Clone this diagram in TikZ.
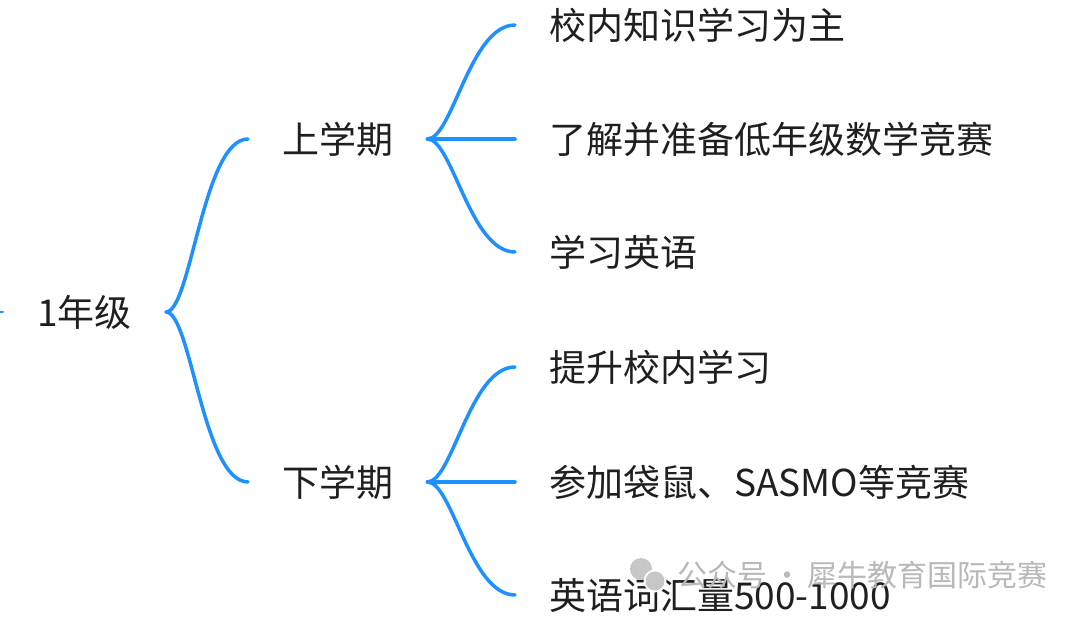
\documentclass[tikz,border=0pt]{standalone}
\usepackage{fontspec}
\setmainfont{Noto Sans CJK SC}
\definecolor{mapblue}{RGB}{30,144,255}
\begin{document}
\begin{tikzpicture}[x=1pt,y=-1pt,
  topic/.style={inner xsep=34pt,inner ysep=0pt,text=black!88,font=\fontsize{37}{40}\selectfont},
  link/.style={draw=mapblue,line width=3.5pt,line cap=round}]
\useasboundingbox (0,0) rectangle (1080,620);
% root and terms
\node[topic,anchor=east] (grade) at (166,312) {1年级};
\node[topic,anchor=west] (first) at (248,139) {上学期};
\node[topic,anchor=west] (second) at (248,482) {下学期};
% leaves
\node[topic,anchor=west] (f1) at (515,25) {校内知识学习为主};
\node[topic,anchor=west] (f2) at (515,139) {了解并准备低年级数学竞赛};
\node[topic,anchor=west] (f3) at (515,252) {学习英语};
\node[topic,anchor=west] (s1) at (515,367) {提升校内学习};
\node[topic,anchor=west] (s2) at (515,482) {参加袋鼠、SASMO等竞赛};
\node[topic,anchor=west] (s3) at (515,595) {英语词汇量500-1000};
% connectors
\coordinate (stubL) at (-4,312);
\coordinate (stubR) at (3,312);
\draw[link,line width=2pt] (stubL) -- (stubR);
\draw[link] (grade.east) .. controls +(25,0) and +(-45,0) .. (first.west);
\draw[link] (grade.east) .. controls +(25,0) and +(-45,0) .. (second.west);
\foreach \t/\a/\b/\c in {first/f1/f2/f3,second/s1/s2/s3}{
  \draw[link] (\t.east) .. controls +(25,0) and +(-45,0) .. (\a.west);
  \draw[link] (\t.east) -- (\b.west);
  \draw[link] (\t.east) .. controls +(25,0) and +(-45,0) .. (\c.west);
}
% watermark
\fill[black!22] (641,569) circle (11);
\fill[white] (655,581) circle (11.5);
\fill[black!22] (655,581) circle (9.5);
\node[anchor=west,inner sep=0pt,text=black!28,font=\fontsize{30}{32}\selectfont] (mark) at (677,575) {公众号\,·\,犀牛教育国际竞赛};
\end{tikzpicture}
\end{document}
